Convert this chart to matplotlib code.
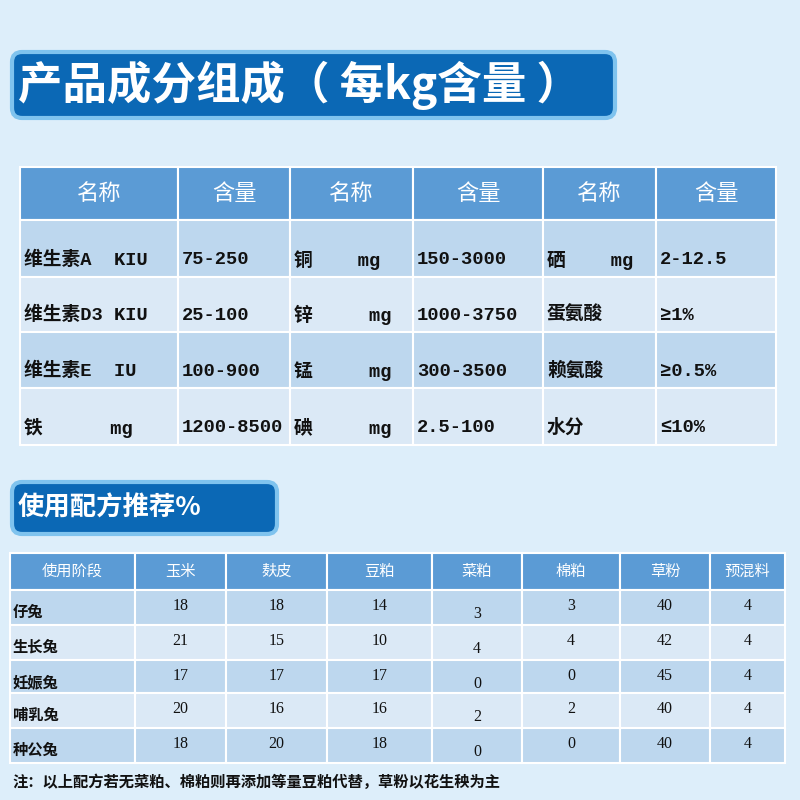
import matplotlib
matplotlib.use("Agg")
import matplotlib.pyplot as plt
from matplotlib.patches import Rectangle, FancyBboxPatch

plt.rcParams['font.family'] = ['Noto Sans CJK SC', 'DejaVu Sans']

title1 = "产品成分组成（ 每kg含量 ）"
title2 = "使用配方推荐%"
top_header = ["名称", "含量", "名称", "含量", "名称", "含量"]
top_rows = [
    ["维生素A  KIU", "75-250", "铜    mg", "150-3000", "硒    mg", "2-12.5"],
    ["维生素D3 KIU", "25-100", "锌     mg", "1000-3750", "蛋氨酸", "≥1%"],
    ["维生素E  IU", "100-900", "锰     mg", "300-3500", "赖氨酸", "≥0.5%"],
    ["铁      mg", "1200-8500", "碘     mg", "2.5-100", "水分", "≤10%"],
]
bot_header = ["使用阶段", "玉米", "麸皮", "豆粕", "菜粕", "棉粕", "草粉", "预混料"]
stages = ["仔兔", "生长兔", "妊娠兔", "哺乳兔", "种公兔"]
corn = [18, 21, 17, 20, 18]
bran = [18, 15, 17, 16, 20]
soy = [14, 10, 17, 16, 18]
rape = [3, 4, 0, 2, 0]
cotton = [3, 4, 0, 2, 0]
grass = [40, 42, 45, 40, 40]
premix = [4, 4, 4, 4, 4]
note = "注：以上配方若无菜粕、棉粕则再添加等量豆粕代替，草粉以花生秧为主"

fig = plt.figure(figsize=(8, 8), dpi=100)
fig.patch.set_facecolor('#ddeefa')
ax = fig.add_axes([0, 0, 1, 1])
ax.set_xlim(0, 800); ax.set_ylim(800, 0); ax.axis('off')

HDR = '#5b9bd5'; DARK = '#bdd7ee'; LIGHT = '#dbe9f6'
mono = ['Liberation Mono', 'Noto Sans CJK SC']

def tbox(x0, y0, x1, y1, txt, fs):
    ax.add_patch(FancyBboxPatch((x0, y0), x1 - x0, y1 - y0, boxstyle="round,pad=0,rounding_size=10",
                                fc='#0b68b5', ec='#7fc3ee', lw=3))
    ax.text(x0 + 6, (y0 + y1) / 2, txt, color='white', fontsize=fs, va='center', ha='left', fontweight='bold')
tbox(12, 52, 615, 118, title1, 32)
tbox(12, 482, 277, 534, title2, 19)

xs = [20, 178, 290, 413, 543, 656, 776]
ys = [167, 220, 277, 332, 388, 445]
for i in range(6):
    ax.add_patch(Rectangle((xs[i], ys[0]), xs[i+1] - xs[i], ys[1] - ys[0], fc=HDR, ec='white', lw=1.5))
    ax.text((xs[i] + xs[i+1]) / 2, (ys[0] + ys[1]) / 2, top_header[i], color='white', fontsize=16, ha='center', va='center')
for r, row in enumerate(top_rows):
    for i in range(6):
        ax.add_patch(Rectangle((xs[i], ys[r+1]), xs[i+1] - xs[i], ys[r+2] - ys[r+1],
                               fc=DARK if r % 2 == 0 else LIGHT, ec='white', lw=1.5))
        ax.text(xs[i] + 4, ys[r+2] - 17, row[i], fontsize=13.5, ha='left', va='center', family=mono,
                color='#111111', fontweight='bold')

bx = [10, 135, 226, 327, 432, 522, 620, 710, 785]
by = [553, 590, 625, 660, 693, 728, 763]
for i in range(8):
    ax.add_patch(Rectangle((bx[i], by[0]), bx[i+1] - bx[i], by[1] - by[0], fc=HDR, ec='white', lw=1.5))
    ax.text((bx[i] + bx[i+1]) / 2, (by[0] + by[1]) / 2, bot_header[i], color='white', fontsize=11, ha='center', va='center')
cols = [corn, bran, soy, rape, cotton, grass, premix]
for r in range(5):
    y0, y1 = by[r+1], by[r+2]
    fc = DARK if r % 2 == 0 else LIGHT
    for i in range(8):
        ax.add_patch(Rectangle((bx[i], y0), bx[i+1] - bx[i], y1 - y0, fc=fc, ec='white', lw=1.5))
    ax.text(bx[0] + 3, y0 + 22, stages[r], fontsize=11, ha='left', va='center', color='#111111', fontweight='bold')
    for c, vals in enumerate(cols):
        i = c + 1
        dy = 24 if c == 3 else 16
        ax.text((bx[i] + bx[i+1]) / 2, y0 + dy, str(vals[r]), fontsize=11.5, ha='center', va='center',
                family=['Liberation Serif'], color='#111111')
ax.text(12, 782, note, fontsize=11, ha='left', va='center', color='#111111', fontweight='bold')

fig.savefig('out.png', dpi=100, facecolor=fig.get_facecolor())
